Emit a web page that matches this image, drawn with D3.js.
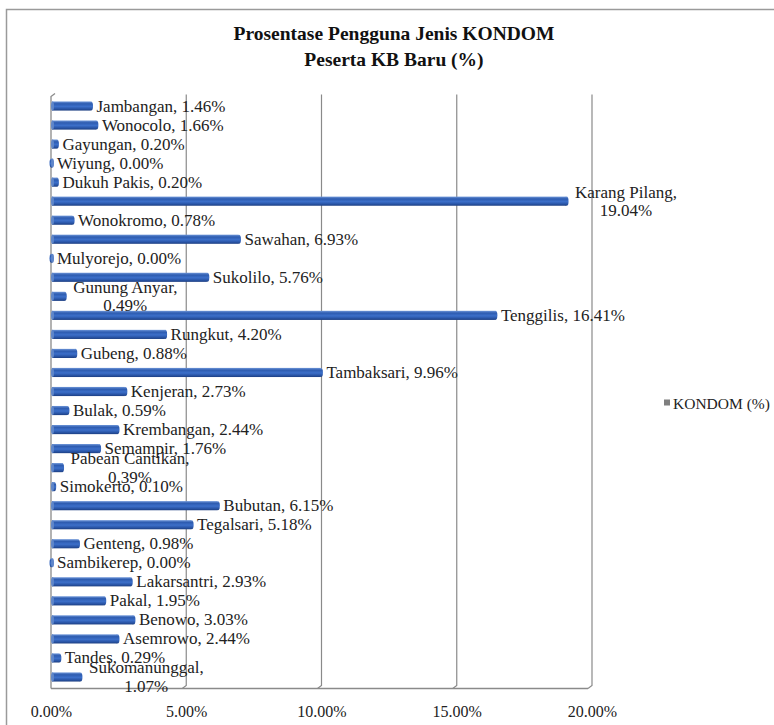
<!DOCTYPE html>
<html>
<head>
<meta charset="utf-8">
<script src="https://cdn.jsdelivr.net/npm/d3@7"></script>
<style>
  html, body { margin: 0; padding: 0; background: #fff; }
  svg { display: block; }
</style>
</head>
<body>
<svg id="chart" width="774" height="725"></svg>
<script>
// Kecamatan names, top to bottom
const categories = [
  "Jambangan", "Wonocolo", "Gayungan", "Wiyung", "Dukuh Pakis", "Karang Pilang",
  "Wonokromo", "Sawahan", "Mulyorejo", "Sukolilo", "Gunung Anyar", "Tenggilis",
  "Rungkut", "Gubeng", "Tambaksari", "Kenjeran", "Bulak", "Krembangan", "Semampir",
  "Pabean Cantikan", "Simokerto", "Bubutan", "Tegalsari", "Genteng", "Sambikerep",
  "Lakarsantri", "Pakal", "Benowo", "Asemrowo", "Tandes", "Sukomanunggal"
];
// KONDOM users among new KB participants (%)
const kondom = [
  1.46, 1.66, 0.20, 0.00, 0.20, 19.04,
  0.78, 6.93, 0.00, 5.76, 0.49, 16.41,
  4.20, 0.88, 9.96, 2.73, 0.59, 2.44, 1.76,
  0.39, 0.10, 6.15, 5.18, 0.98, 0.00,
  2.93, 1.95, 3.03, 2.44, 0.29, 1.07
];
// Labels that break onto two lines
const wrappedLabels = ["Karang Pilang", "Gunung Anyar", "Pabean Cantikan", "Sukomanunggal"];
const xTicks = [0, 5, 10, 15, 20];
const titleLines = ["Prosentase Pengguna Jenis KONDOM", "Peserta KB Baru (%)"];
const seriesName = "KONDOM (%)";

const FONT = "'Liberation Serif', 'Times New Roman', Times, serif";
const data = categories.map((c, i) => ({ name: c, value: kondom[i] }));

const svg = d3.select("#chart").style("font-family", FONT);
const plot = { left: 51, right: 592, top: 96.5, bottom: 686.5 };

const x = d3.scaleLinear().domain([0, 20]).range([plot.left, plot.right]);
const y = d3.scaleBand().domain(categories).range([plot.top, plot.bottom]).paddingInner(0.52).paddingOuter(0.26);

// Outer chart frame
svg.append("path")
  .attr("d", "M6.5,725 V9.5 H774")
  .attr("fill", "none").attr("stroke", "#9a9a9a").attr("stroke-width", 1.5);

// Title
svg.append("g").selectAll("text").data(titleLines).join("text")
  .attr("x", 394).attr("y", (d, i) => 40 + i * 26)
  .attr("text-anchor", "middle")
  .style("font-family", FONT)
  .style("font-size", "19.5px").style("font-weight", "bold")
  .attr("fill", "#111")
  .text(d => d);

// Gradient for the cylinder-like bars
const defs = svg.append("defs");
const grad = defs.append("linearGradient").attr("id", "barGrad")
  .attr("x1", 0).attr("y1", 0).attr("x2", 0).attr("y2", 1);
[["0%", "#6d95d8"], ["25%", "#2e5cb0"], ["55%", "#3c6fc9"], ["80%", "#2a56a8"], ["100%", "#1d3f82"]]
  .forEach(([o, c]) => grad.append("stop").attr("offset", o).attr("stop-color", c));

// Vertical gridlines with a slanted floor edge
const grid = svg.append("g");
grid.selectAll("path").data(xTicks.slice(1)).join("path")
  .attr("d", d => `M${x(d)},${plot.top - 2} V${plot.bottom - 1} L${x(d) - 4},${plot.bottom + 2}`)
  .attr("fill", "none").attr("stroke", "#8a8a8a").attr("stroke-width", 1.2);

// Floor / axis line and left wall
svg.append("path")
  .attr("d", `M${plot.left},${plot.bottom + 2} H${x(20) - 4}`)
  .attr("stroke", "#8a8a8a").attr("stroke-width", 1.3).attr("fill", "none");
svg.append("path")
  .attr("d", `M${plot.left + 4},${plot.top - 3} L${plot.left},${plot.top} V${plot.bottom + 2}`)
  .attr("stroke", "#8a8a8a").attr("stroke-width", 1.3).attr("fill", "none");

// X axis tick labels
const xAxis = d3.axisBottom(x).tickValues(xTicks).tickSize(0).tickPadding(0)
  .tickFormat(d => d.toFixed(2) + "%");
const ax = svg.append("g").attr("transform", `translate(0,${plot.bottom + 19})`).call(xAxis)
  .attr("font-family", null).attr("font-size", null);
ax.select(".domain").remove();
ax.selectAll("text").style("font-size", "16px").style("font-family", FONT).attr("fill", "#222");

// Bars
const bars = svg.append("g");
const bh = y.bandwidth();
bars.selectAll("rect.bar").data(data).join("rect")
  .attr("class", "bar")
  .attr("x", x(0) + 1)
  .attr("y", d => y(d.name))
  .attr("width", d => Math.max(0, x(d.value) - x(0) - 1))
  .attr("height", bh)
  .attr("fill", "url(#barGrad)");
// rounded end caps
bars.selectAll("ellipse.cap").data(data).join("ellipse")
  .attr("class", "cap")
  .attr("cx", d => x(d.value) + 0.5)
  .attr("cy", d => y(d.name) + bh / 2)
  .attr("rx", 2).attr("ry", bh / 2)
  .attr("fill", "url(#barGrad)");
bars.selectAll("ellipse.start").data(data).join("ellipse")
  .attr("class", "start")
  .attr("cx", x(0) + 1.5)
  .attr("cy", d => y(d.name) + bh / 2)
  .attr("rx", 1.5).attr("ry", bh / 2)
  .attr("fill", "#5f86c9");

// Data labels "Name, value%"
const labels = svg.append("g").style("font-family", FONT).style("font-size", "17px").attr("fill", "#222");
data.forEach(d => {
  const cy = y(d.name) + bh / 2;
  const valTxt = d.value.toFixed(2) + "%";
  if (wrappedLabels.includes(d.name)) {
    const t = labels.append("text").attr("text-anchor", "middle");
    t.append("tspan").text(d.name + ",");
    const w = t.node().getComputedTextLength();
    const cx = x(d.value) + 9 + w / 2;
    t.select("tspan").attr("x", cx).attr("y", cy - 3.5);
    t.append("tspan").attr("x", cx).attr("y", cy + 15).text(valTxt);
  } else {
    labels.append("text")
      .attr("x", x(d.value) + 6)
      .attr("y", cy + 5.5)
      .text(`${d.name}, ${valTxt}`);
  }
});

// Legend
const lg = svg.append("g").attr("transform", "translate(664,403)");
lg.append("rect").attr("x", 0).attr("y", -3.5).attr("width", 6).attr("height", 6).attr("fill", "#7f7f7f");
lg.append("text").attr("x", 9).attr("y", 5.5)
  .style("font-family", FONT).style("font-size", "15.5px").attr("fill", "#222").text(seriesName);
</script>
</body>
</html>
